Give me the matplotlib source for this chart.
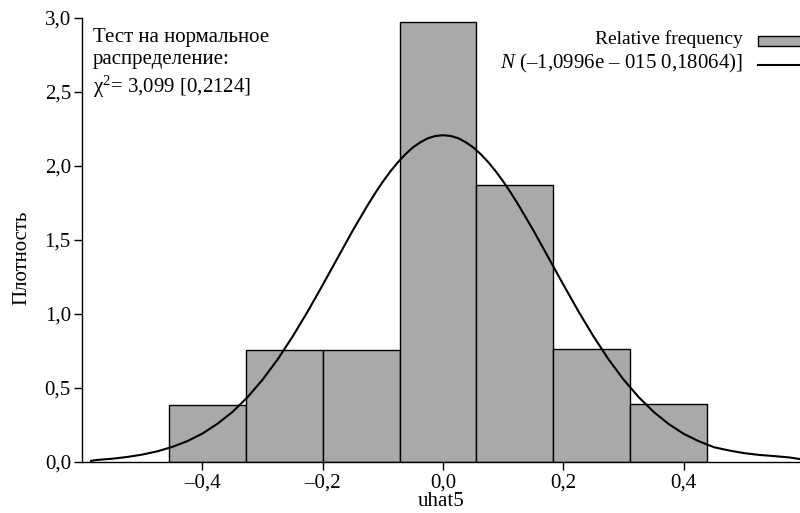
import matplotlib
matplotlib.use("Agg")
import matplotlib.pyplot as plt
from matplotlib.patches import Rectangle
from matplotlib.lines import Line2D

plt.rcParams['font.family'] = ['Liberation Serif', 'DejaVu Serif']
plt.rcParams['mathtext.fontset'] = 'custom'
plt.rcParams['mathtext.rm'] = 'Liberation Serif'
plt.rcParams['mathtext.it'] = 'Liberation Serif:italic'

# Histogram data (bin edges and relative-frequency densities)
bin_edges = [-0.455, -0.327, -0.200, -0.072, 0.055, 0.183, 0.310, 0.438]
densities = [0.384, 0.755, 0.755, 2.970, 1.875, 0.762, 0.391]

# Fitted normal density curve
curve_x = [-0.585, -0.575, -0.55, -0.525, -0.50, -0.475, -0.45, -0.425, -0.40, -0.375,
           -0.35, -0.325, -0.30, -0.275, -0.25, -0.225, -0.20, -0.175, -0.15, -0.125,
           -0.1125, -0.10, -0.0875, -0.075, -0.0625, -0.05, -0.0375, -0.025, -0.0125,
           0.0, 0.0125, 0.025, 0.0375, 0.05, 0.0625, 0.075, 0.0875, 0.10, 0.1125, 0.125,
           0.15, 0.175, 0.20, 0.225, 0.25, 0.275, 0.30, 0.325, 0.35, 0.375,
           0.40, 0.425, 0.45, 0.475, 0.50, 0.525, 0.55, 0.575, 0.593]
curve_y = [0.008, 0.014, 0.022, 0.034, 0.050, 0.072, 0.102, 0.141, 0.192, 0.258,
           0.338, 0.438, 0.556, 0.693, 0.848, 1.017, 1.197, 1.381, 1.565, 1.738,
           1.819, 1.895, 1.964, 2.026, 2.080, 2.126, 2.161, 2.188, 2.203,
           2.208, 2.203, 2.188, 2.161, 2.126, 2.080, 2.026, 1.964, 1.895, 1.819, 1.738,
           1.565, 1.381, 1.197, 1.017, 0.848, 0.693, 0.556, 0.438, 0.338, 0.256,
           0.190, 0.140, 0.100, 0.078, 0.060, 0.048, 0.040, 0.031, 0.020]

xticks = [-0.4, -0.2, 0.0, 0.2, 0.4]
xtick_labels = ['–0,4', '–0,2', '0,0', '0,2', '0,4']
yticks = [0.0, 0.5, 1.0, 1.5, 2.0, 2.5, 3.0]
ytick_labels = ['0,0', '0,5', '1,0', '1,5', '2,0', '2,5', '3,0']

bar_color = '#a9a9a9'

fig = plt.figure(figsize=(8.0, 5.13), dpi=100)
ax = fig.add_axes([0.1025, 0.0994, 0.8975, 0.8655])

lefts = bin_edges[:-1]
widths = [b - a for a, b in zip(bin_edges[:-1], bin_edges[1:])]
ax.bar(lefts, densities, width=widths, align='edge', color=bar_color,
       edgecolor='black', linewidth=1.0, zorder=2)
ax.plot(curve_x, curve_y, color='black', linewidth=1.5, zorder=3,
        solid_joinstyle='round')

ax.set_xlim(-0.6, 0.593)
ax.set_ylim(0.0, 3.0)
ax.set_xticks(xticks)
ax.set_xticklabels(xtick_labels)
ax.set_yticks(yticks)
ax.set_yticklabels(ytick_labels)
ax.tick_params(direction='out', length=6, width=1.0, labelsize=15, pad=2)

for s in ['top', 'right']:
    ax.spines[s].set_visible(False)
for s in ['left', 'bottom']:
    ax.spines[s].set_linewidth(1.0)

ax.set_xlabel('uhat5', fontsize=15, labelpad=0)
ax.set_ylabel('Плотность', fontsize=15)
ax.yaxis.set_label_coords(-0.071, 0.46)

# Test annotation
ax.text(0.015, 0.978, 'Тест на нормальное\nраспределение:\nχ$^2$= 3,099 [0,2124]',
        transform=ax.transAxes, ha='left', va='top', fontsize=15,
        linespacing=1.25)

# Manual legend at top right
ax.text(0.921, 0.953, 'Relative frequency', transform=ax.transAxes,
        ha='right', va='center', fontsize=14)
ax.text(0.921, 0.897, r'$\mathit{N}$ (–1,0996e – 015 0,18064)]', transform=ax.transAxes,
        ha='right', va='center', fontsize=15)
ax.add_patch(Rectangle((0.941, 0.937), 0.07, 0.022, transform=ax.transAxes,
                       facecolor=bar_color, edgecolor='black', linewidth=1.0,
                       clip_on=False))
ax.add_line(Line2D([0.941, 1.01], [0.895, 0.895], transform=ax.transAxes,
                   color='black', linewidth=1.5, clip_on=False))

fig.savefig('out.png', dpi=100)
